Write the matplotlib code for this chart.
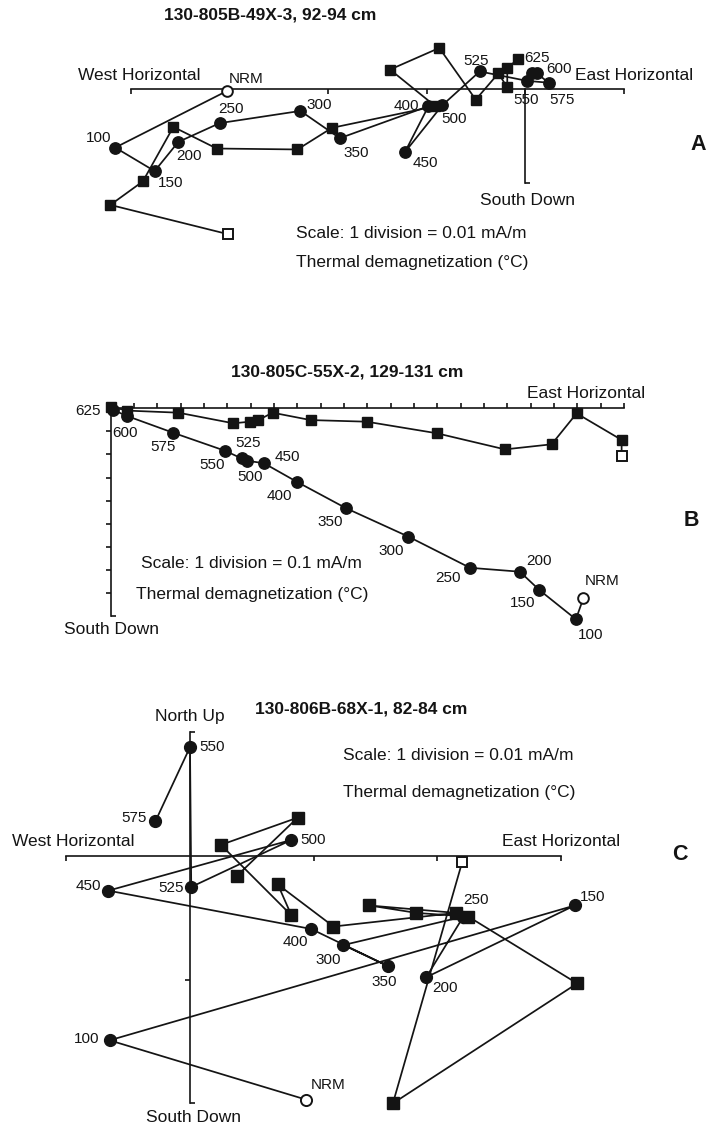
import matplotlib.pyplot as plt

W, H = 708, 1129

# ---- data (in scale divisions) ----
temps_a = ['NRM', '100', '150', '200', '250', '300', '350', '400', '450',
           '500', '525', '550', '575', '600', '625']
a_circle_x = [-3.03, -4.16, -3.76, -3.52, -3.10, -2.28, -1.88, -0.98, -1.22,
              -0.84, -0.46, 0.02, 0.24, 0.12, 0.07]
a_circle_y = [-0.02, -0.62, -0.87, -0.56, -0.36, -0.23, -0.52, -0.18, -0.67,
              -0.17, 0.19, 0.09, 0.07, 0.17, 0.17]
a_square_x = [-3.02, -4.21, -3.88, -3.57, -3.13, -2.31, -1.96, -0.91, -1.37,
              -0.87, -0.50, -0.27, -0.18, -0.18, -0.07]
a_square_y = [-1.54, -1.23, -0.98, -0.40, -0.63, -0.64, -0.41, -0.18, 0.21,
              0.44, -0.11, 0.17, 0.02, 0.23, 0.32]

temps_b = ['NRM', '100', '150', '200', '250', '300', '350', '400', '450',
           '500', '525', '550', '575', '600', '625']
b_circle_x = [20.26, 19.94, 18.37, 17.54, 15.40, 12.76, 10.09, 7.97, 6.57,
              5.83, 5.61, 4.90, 2.68, 0.69, 0.10]
b_circle_y = [-8.23, -9.14, -7.87, -7.08, -6.91, -5.56, -4.33, -3.18, -2.38,
              -2.27, -2.17, -1.84, -1.06, -0.33, -0.07]
b_square_x = [21.90, 21.90, 19.97, 18.90, 16.90, 13.97, 10.97, 8.57, 6.94,
              6.33, 5.97, 5.26, 2.90, 0.71, 0.00]
b_square_y = [-2.07, -1.37, -0.22, -1.56, -1.78, -1.08, -0.58, -0.51, -0.19,
              -0.51, -0.58, -0.65, -0.19, -0.10, 0.07]

temps_c = ['NRM', '100', '150', '200', '250', '300', '350', '400', '450',
           '500', '525', '550', '575']
c_circle_x = [0.94, -0.65, 3.11, 1.91, 2.21, 1.24, 1.60, 0.98, -0.66,
              0.82, 0.01, 0.00, -0.28]
c_circle_y = [-1.97, -1.49, -0.40, -0.98, -0.49, -0.72, -0.89, -0.59, -0.28,
              0.13, -0.25, 0.88, 0.28]
c_square_x = [2.20, 1.64, 3.13, 2.25, 1.83, 1.45, 2.15, 1.16, 0.71,
              0.82, 0.25, 0.87, 0.38]
c_square_y = [-0.05, -2.00, -1.03, -0.49, -0.46, -0.40, -0.46, -0.57, -0.23,
              -0.48, 0.09, 0.31, -0.16]

# label offsets from each circle (pixels, up positive)
a_lab_dx = [20, -17, 16, 11, 11, 19, 16, -22, 21, 12, -4, -1, 13, 22, 5]
a_lab_dy = [12, 10, -12, -14, 14, 6, -15, 0, -11, -14, 10, -19, -17, 4, 15]
b_lab_dx = [19, 15, -17, 19, -22, -17, -16, -17, 23, 3, 7, -13, -10, -2, -25]
b_lab_dy = [17, -16, -13, 11, -10, -14, -14, -14, 6, -16, 15, -14, -14, -17, -1]
c_lab_dx = [22, -23, 18, 19, 13, -15, -4, -16, -20, 22, -20, 22, -21]
c_lab_dy = [15, 1, 8, -11, 17, -15, -16, -13, 5, 0, -1, 0, 3]

INK = '#141414'
plt.rcParams['font.family'] = ['Liberation Sans', 'DejaVu Sans']
plt.rcParams['text.color'] = INK

fig = plt.figure(figsize=(W / 100, H / 100), dpi=100)


def px_text(x, y, s, size=12.5, weight='normal', ha='left'):
    fig.text(x / W, 1 - y / H, s, fontsize=size, fontweight=weight,
             ha=ha, va='center')


def make_panel(box, origin, unit):
    left, top, right, bottom = box
    ox, oy = origin
    ux, uy = unit
    ax = fig.add_axes([left / W, 1 - bottom / H,
                       (right - left) / W, (bottom - top) / H])
    ax.set_xlim((left - ox) / ux, (right - ox) / ux)
    ax.set_ylim((oy - bottom) / uy, (oy - top) / uy)
    ax.patch.set_visible(False)
    for side in ('top', 'right'):
        ax.spines[side].set_visible(False)
    ax.spines['left'].set_position(('data', 0))
    ax.spines['bottom'].set_position(('data', 0))
    for sp in ax.spines.values():
        sp.set_linewidth(1.2)
        sp.set_color(INK)
    ax.tick_params(which='both', labelbottom=False, labelleft=False,
                   width=1.2, length=3.4, color=INK)
    return ax


def draw_series(ax, xs, ys, marker, size):
    ax.plot(xs, ys, color=INK, lw=1.25, zorder=2, clip_on=False)
    ax.plot(xs[1:], ys[1:], ls='none', marker=marker, ms=size, mfc=INK,
            mec=INK, zorder=3, clip_on=False)
    ax.plot(xs[:1], ys[:1], ls='none', marker=marker, ms=size - 0.5,
            mfc='white', mec=INK, mew=1.4, zorder=4, clip_on=False)


def label_points(ax, temps, xs, ys, dxs, dys):
    for t, x, y, dx, dy in zip(temps, xs, ys, dxs, dys):
        ax.annotate(t, (x, y), xytext=(dx, dy), textcoords='offset pixels',
                    ha='center', va='center', fontsize=11)


# ---- Panel A ----
ax = make_panel((30, 30, 700, 250), (525, 89.3), (98.5, 94))
ax.spines['bottom'].set_bounds(-4, 1)
ax.spines['left'].set_bounds(-1, 0)
ax.set_xticks(range(-4, 2))
ax.set_yticks([])
ax.set_yticks([-1], minor=True)
ax.tick_params(axis='x', direction='out')
ax.tick_params(axis='y', which='minor', direction='in')
draw_series(ax, a_square_x, a_square_y, 's', 7.8)
draw_series(ax, a_circle_x, a_circle_y, 'o', 8.2)
label_points(ax, temps_a, a_circle_x, a_circle_y, a_lab_dx, a_lab_dy)

px_text(270, 15, '130-805B-49X-3, 92-94 cm', size=12.5, weight='bold', ha='center')
px_text(78, 75, 'West Horizontal')
px_text(575, 75, 'East Horizontal')
px_text(528, 201, 'South Down', ha='center')
px_text(296, 233, 'Scale: 1 division = 0.01 mA/m')
px_text(296, 263, 'Thermal demagnetization (°C)')
px_text(698, 145, 'A', size=15.5, weight='bold', ha='center')

# ---- Panel B ----
ax = make_panel((60, 380, 700, 650), (110.7, 408.3), (23.33, 23.08))
ax.spines['bottom'].set_bounds(0, 22)
ax.spines['left'].set_bounds(-9, 0)
ax.set_xticks(range(1, 23))
ax.set_yticks(range(-8, 0))
ax.set_yticks([-9], minor=True)
ax.tick_params(axis='x', direction='in')
ax.tick_params(axis='y', which='major', direction='out')
ax.tick_params(axis='y', which='minor', direction='in')
draw_series(ax, b_square_x, b_square_y, 's', 7.8)
draw_series(ax, b_circle_x, b_circle_y, 'o', 8.2)
label_points(ax, temps_b, b_circle_x, b_circle_y, b_lab_dx, b_lab_dy)

px_text(347, 372, '130-805C-55X-2, 129-131 cm', size=12.5, weight='bold', ha='center')
px_text(527, 393, 'East Horizontal')
px_text(141, 564, 'Scale: 1 division = 0.1 mA/m')
px_text(136, 595, 'Thermal demagnetization (°C)')
px_text(64, 630, 'South Down')
px_text(691, 520, 'B', size=15.5, weight='bold', ha='center')

# ---- Panel C ----
ax = make_panel((0, 720, 700, 1129), (190, 856), (123.7, 123.7))
ax.spines['bottom'].set_bounds(-1, 3)
ax.spines['left'].set_bounds(-2, 1)
ax.set_xticks([-1, 1, 2, 3])
ax.set_yticks([-1])
ax.set_yticks([-2, 1], minor=True)
ax.tick_params(axis='x', direction='out')
ax.tick_params(axis='y', which='major', direction='out')
ax.tick_params(axis='y', which='minor', direction='in')
draw_series(ax, c_square_x, c_square_y, 's', 8.2)
draw_series(ax, c_circle_x, c_circle_y, 'o', 8.5)
label_points(ax, temps_c, c_circle_x, c_circle_y, c_lab_dx, c_lab_dy)

px_text(361, 709, '130-806B-68X-1, 82-84 cm', size=12.5, weight='bold', ha='center')
px_text(190, 717, 'North Up', ha='center')
px_text(12, 841, 'West Horizontal')
px_text(502, 841, 'East Horizontal')
px_text(343, 756, 'Scale: 1 division = 0.01 mA/m')
px_text(343, 792, 'Thermal demagnetization (°C)')
px_text(194, 1118, 'South Down', ha='center')
px_text(680, 855, 'C', size=15.5, weight='bold', ha='center')

fig.savefig('out.png', dpi=100, facecolor='white')
